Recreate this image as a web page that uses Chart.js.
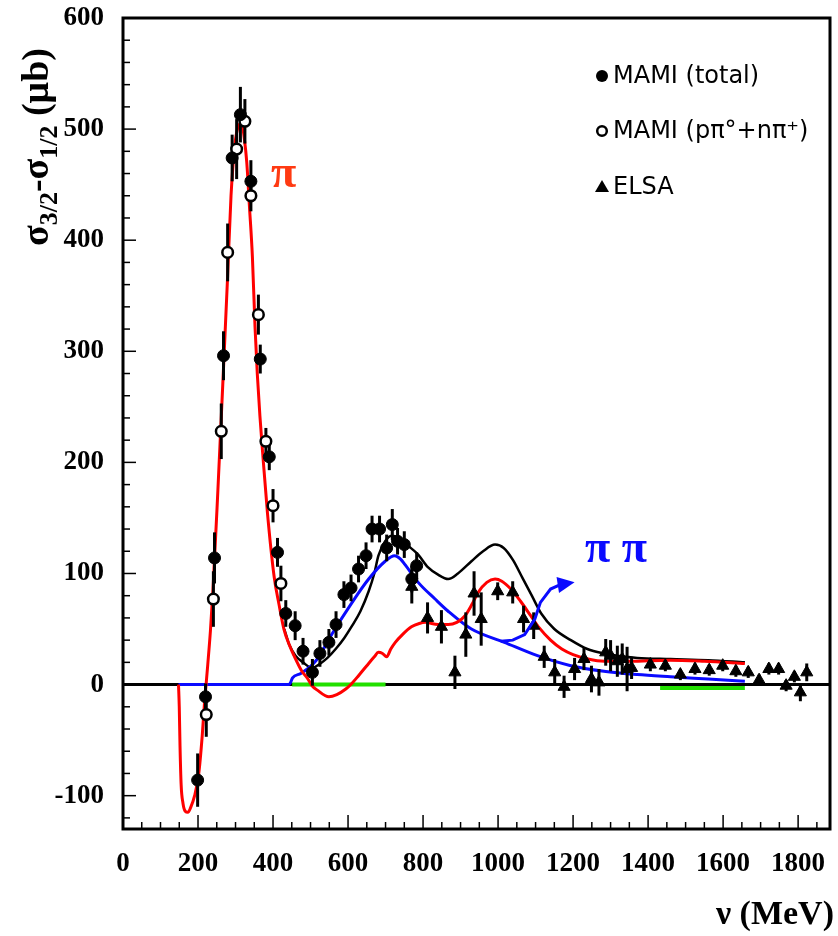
<!DOCTYPE html>
<html>
<head>
<meta charset="utf-8">
<script src="https://cdn.jsdelivr.net/npm/chart.js@4.4.0/dist/chart.umd.min.js"></script>
<style>
  body { margin: 0; background: #fff; }
  canvas { display: block; }
</style>
</head>
<body>
<canvas id="gdh" width="838" height="936"></canvas>
<script>
// photon energy nu (MeV) and sigma_3/2 - sigma_1/2 (microbarn)

// MAMI (total)
const mamiTotE = [199, 220, 244, 268, 291, 313, 341, 366, 390, 412, 434, 459, 480, 505, 525, 549, 568, 589, 608, 628, 648, 664, 684, 703, 718, 732, 750, 770, 783];
const mamiTotV = [-86, -11, 114, 296, 474, 513, 453, 293, 205, 119, 64, 53, 30, 11, 28, 38, 54, 81, 87, 104, 116, 140, 140, 123, 144, 129, 126, 95, 107];
const mamiTotErr = [24, 12, 23, 22, 21, 25, 19, 13, 12, 13, 12, 13, 12, 12, 12, 12, 12, 12, 12, 12, 12, 12, 12, 12, 14, 12, 12, 12, 12];

// MAMI (p pi0 + n pi+)
const mamiOpenE = [222, 241, 262, 279, 303, 325, 341, 361, 381, 400, 421];
const mamiOpenV = [-27, 77, 228, 389, 482, 507, 440, 333, 219, 161, 91];
const mamiOpenErr = [20, 25, 25, 26, 27, 20, 14, 18, 12, 15, 16];

// ELSA
const elsaE = [770, 812, 849, 885, 914, 936, 955, 999, 1039, 1068, 1095, 1123, 1151, 1176, 1204, 1229, 1249, 1269, 1287, 1300, 1318, 1331, 1344, 1356, 1406, 1446, 1486, 1525, 1563, 1599, 1634, 1667, 1696, 1722, 1748, 1768, 1790, 1806, 1823];
const elsaV = [88, 60, 52, 11, 45, 82, 59, 84, 83, 59, 53, 25, 11, -2, 14, 23, 5, 2, 29, 26, 21, 23, 14, 15, 18, 17, 9, 14, 13, 17, 12, 11, 4, 14, 14, -1, 7, -7, 11];
const elsaErr = [15, 14, 15, 15, 20, 20, 24, 8, 10, 12, 12, 10, 12, 10, 10, 10, 12, 12, 12, 14, 14, 14, 20, 10, 6, 5, 5, 5, 5, 5, 5, 5, 5, 5, 5, 5, 5, 8, 8];

// single pion curve (red)
const piE = [148, 150, 152, 155, 160, 166, 173, 180, 191, 202, 211, 217, 222, 226, 233, 240, 253, 266, 279, 288, 298, 308, 316, 324, 330, 337, 345, 352, 358, 365, 372, 385, 403, 416, 429, 443, 456, 477, 491, 504, 518, 549, 570, 594, 610, 628, 650, 670, 681, 692, 703, 714, 726, 745, 769, 790, 806, 840, 867, 890, 912, 930, 947, 970, 992, 1010, 1034, 1060, 1087, 1110, 1140, 1170, 1200, 1240, 1283, 1350, 1458, 1550, 1658];
const piV = [0, -20, -55, -90, -107, -114, -115, -111, -100, -80, -47, -18, 2, 18, 48, 86, 175, 270, 368, 440, 485, 503, 505, 490, 470, 431, 385, 322, 280, 242, 210, 155, 97, 72, 50, 36, 26, 12, 6, -1, -5, -11, -9, -4, 1, 8, 17, 25, 29, 28, 25, 32, 38, 45, 52, 55, 56, 54, 54, 56, 62, 72, 83, 92, 95, 93, 86, 75, 62, 51, 40, 32, 27, 23, 21, 21, 22, 21, 19];

// double pion curve (blue)
const pipiE = [148, 443, 447, 452, 474, 505, 522, 558, 611, 655, 699, 724, 740, 752, 787, 832, 867, 929, 1017, 1105, 1194, 1282, 1371, 1460, 1560, 1658];
const pipiV = [0, 0, 2, 6, 10, 18, 25, 46, 74, 95, 111, 116, 113, 108, 92, 77, 66, 50, 38, 26, 17, 12, 9, 7, 5, 3];

// sum (black)
const sumE = [430, 443, 460, 480, 504, 522, 545, 567, 590, 611, 633, 655, 670, 681, 699, 716, 735, 760, 787, 812, 840, 867, 893, 929, 960, 992, 1015, 1040, 1065, 1090, 1115, 1150, 1194, 1238, 1282, 1318, 1371, 1460, 1560, 1658];
const sumV = [50, 36, 26, 20, 15, 18, 24, 32, 42, 53, 66, 84, 100, 116, 129, 134, 132, 125, 117, 106, 99, 95, 100, 111, 120, 126, 123, 112, 96, 80, 64, 50, 40, 32, 28, 26, 24, 23, 22, 20];

// green bands on the axis
const gapLo = [451, 1432];
const gapHi = [700, 1658];
const gapV = [0, -3];

// blue arrow pointing at the pi pi label
const arrowE = [1007, 1039, 1071, 1098, 1113, 1140, 1166, 1204];
const arrowV = [39, 40, 45, 59, 74, 86, 90, 92];

const xTicks = [];
for (let v = 0; v <= 1850; v += 50) xTicks.push(v);
const yTicks = [];
for (let v = -120; v <= 600; v += 20) yTicks.push(v);

const pts = (e, v) => e.map((x, i) => ({ x: x, y: v[i] }));
const serif = '"Liberation Serif", "Times New Roman", serif';

const extras = {
    id: 'extras',
    beforeDatasetDraw(chart, args) {
        if (args.index !== 2) return;
        // error bars go under the markers, over the curves
        const xs = chart.scales.x, ys = chart.scales.y, ctx = chart.ctx;
        ctx.save();
        ctx.strokeStyle = '#000';
        ctx.lineWidth = 3;
        const sets = [[mamiTotE, mamiTotV, mamiTotErr], [mamiOpenE, mamiOpenV, mamiOpenErr], [elsaE, elsaV, elsaErr]];
        sets.forEach(([e, v, err]) => e.forEach((x, i) => {
            const px = xs.getPixelForValue(x);
            ctx.beginPath();
            ctx.moveTo(px, ys.getPixelForValue(v[i] - err[i]));
            ctx.lineTo(px, ys.getPixelForValue(v[i] + err[i]));
            ctx.stroke();
        }));
        ctx.restore();
    },
    afterDraw(chart) {
        const ctx = chart.ctx, a = chart.chartArea;
        const xs = chart.scales.x, ys = chart.scales.y;
        ctx.save();
        // frame
        ctx.strokeStyle = '#000';
        ctx.lineWidth = 3;
        ctx.strokeRect(a.left, a.top, a.right - a.left, a.bottom - a.top);
        // inward ticks
        ctx.lineWidth = 1.5;
        xTicks.forEach(v => {
            const px = xs.getPixelForValue(v);
            const len = v % 200 === 0 ? 14 : 7;
            ctx.beginPath(); ctx.moveTo(px, a.bottom); ctx.lineTo(px, a.bottom - len); ctx.stroke();
        });
        yTicks.forEach(v => {
            const py = ys.getPixelForValue(v);
            const len = v % 100 === 0 ? 13 : 7;
            ctx.beginPath(); ctx.moveTo(a.left, py); ctx.lineTo(a.left + len, py); ctx.stroke();
        });

        // blue arrow
        const ap = arrowE.map((x, i) => [xs.getPixelForValue(x), ys.getPixelForValue(arrowV[i])]);
        ctx.strokeStyle = '#0a0aff';
        ctx.fillStyle = '#0a0aff';
        ctx.lineWidth = 3;
        ctx.beginPath();
        ctx.moveTo(ap[0][0], ap[0][1]);
        for (let i = 1; i < ap.length - 1; i++) ctx.lineTo(ap[i][0], ap[i][1]);
        ctx.stroke();
        const tip = ap[ap.length - 1], back = ap[ap.length - 2];
        const ang = Math.atan2(tip[1] - back[1], tip[0] - back[0]);
        ctx.beginPath();
        ctx.moveTo(tip[0], tip[1]);
        ctx.lineTo(tip[0] - 17 * Math.cos(ang) + 8 * Math.sin(ang), tip[1] - 17 * Math.sin(ang) - 8 * Math.cos(ang));
        ctx.lineTo(tip[0] - 17 * Math.cos(ang) - 8 * Math.sin(ang), tip[1] - 17 * Math.sin(ang) + 8 * Math.cos(ang));
        ctx.closePath();
        ctx.fill();

        // curve labels
        ctx.textBaseline = 'alphabetic';
        ctx.textAlign = 'left';
        ctx.font = 'bold 46px ' + serif;
        ctx.fillStyle = '#ff3a12';
        ctx.fillText('π', 271, 187);
        ctx.fillStyle = '#0a0aff';
        ctx.fillText('π π', 585, 562);

        // axis titles
        ctx.fillStyle = '#000';
        ctx.font = 'bold 34px ' + serif;
        ctx.textAlign = 'right';
        ctx.fillText('ν (MeV)', 834, 924);

        ctx.save();
        ctx.translate(48, 246);
        ctx.rotate(-Math.PI / 2);
        ctx.textAlign = 'left';
        const big = 'bold 38px ' + serif, small = 'bold 26px ' + serif;
        const parts = [['σ', big, 0], ['3/2', small, 9], ['-', big, 0], ['σ', big, 0], ['1/2', small, 9], [' (μb)', big, 0]];
        let cx = 0;
        parts.forEach(([t, f, dy]) => {
            ctx.font = f;
            ctx.fillText(t, cx, dy);
            cx += ctx.measureText(t).width;
        });
        ctx.restore();

        // legend
        const rows = [['MAMI (total)', 76], ['MAMI (pπ°+nπ⁺)', 131], ['ELSA', 187]];
        ctx.textAlign = 'left';
        ctx.textBaseline = 'middle';
        ctx.font = '24px "DejaVu Sans", sans-serif';
        rows.forEach(([t, y], i) => {
            ctx.fillStyle = '#000';
            ctx.strokeStyle = '#000';
            ctx.lineWidth = 2.5;
            ctx.beginPath();
            if (i === 0) { ctx.arc(602, y, 6, 0, 2 * Math.PI); ctx.fill(); }
            else if (i === 1) { ctx.arc(602, y, 4.8, 0, 2 * Math.PI); ctx.stroke(); }
            else { ctx.moveTo(602, y - 7); ctx.lineTo(609, y + 5); ctx.lineTo(595, y + 5); ctx.closePath(); ctx.fill(); }
            ctx.fillText(t, 613, y + 1);
        });
        ctx.restore();
    }
};

new Chart(document.getElementById('gdh'), {
    type: 'scatter',
    data: {
        datasets: [
            { data: pts(mamiTotE, mamiTotV), pointStyle: 'circle', pointRadius: 6, backgroundColor: '#000', borderColor: '#000', borderWidth: 1 },
            { data: pts(mamiOpenE, mamiOpenV), pointStyle: 'circle', pointRadius: 5.3, backgroundColor: '#fff', borderColor: '#000', borderWidth: 2.5 },
            { data: pts(elsaE, elsaV), pointStyle: 'triangle', pointRadius: 7, backgroundColor: '#000', borderColor: '#000', borderWidth: 1 },
            { data: pts(piE, piV), showLine: true, pointRadius: 0, borderColor: '#ff0000', borderWidth: 3, cubicInterpolationMode: 'monotone' },
            { data: pts(pipiE, pipiV), showLine: true, pointRadius: 0, borderColor: '#0a0aff', borderWidth: 3, cubicInterpolationMode: 'monotone' },
            { data: pts(sumE, sumV), showLine: true, pointRadius: 0, borderColor: '#000', borderWidth: 2.5, cubicInterpolationMode: 'monotone' },
            { data: [{ x: gapLo[0], y: gapV[0] }, { x: gapHi[0], y: gapV[0] }], showLine: true, pointRadius: 0, borderColor: '#22e000', borderWidth: 4 },
            { data: [{ x: gapLo[1], y: gapV[1] }, { x: gapHi[1], y: gapV[1] }], showLine: true, pointRadius: 0, borderColor: '#22e000', borderWidth: 4 },
            { data: [{ x: 0, y: 0 }, { x: 1885, y: 0 }], showLine: true, pointRadius: 0, borderColor: '#000', borderWidth: 3 }
        ]
    },
    options: {
        responsive: false,
        animation: false,
        devicePixelRatio: 1,
        events: [],
        layout: { padding: { top: 18, right: 0, left: 0, bottom: 0 } },
        plugins: { legend: { display: false }, tooltip: { enabled: false } },
        scales: {
            x: {
                type: 'linear', min: 0, max: 1885,
                grid: { display: false },
                border: { display: false },
                afterBuildTicks: s => { s.ticks = xTicks.map(v => ({ value: v })); },
                afterFit: s => { s.height = 107; s.paddingLeft = 0; s.paddingRight = 0; },
                ticks: {
                    autoSkip: false, maxRotation: 0, padding: 11, color: '#000',
                    font: { family: serif, weight: 'bold', size: 27 },
                    callback: v => (v % 200 === 0 ? v : '')
                }
            },
            y: {
                type: 'linear', min: -130, max: 600,
                grid: { display: false },
                border: { display: false },
                afterBuildTicks: s => { s.ticks = yTicks.map(v => ({ value: v })); },
                afterFit: s => { s.width = 123; s.paddingTop = 0; s.paddingBottom = 0; },
                ticks: {
                    autoSkip: false, padding: 11, color: '#000',
                    font: { family: serif, weight: 'bold', size: 27 },
                    callback: v => (v % 100 === 0 ? v : '')
                }
            }
        }
    },
    plugins: [extras]
});
</script>
</body>
</html>
